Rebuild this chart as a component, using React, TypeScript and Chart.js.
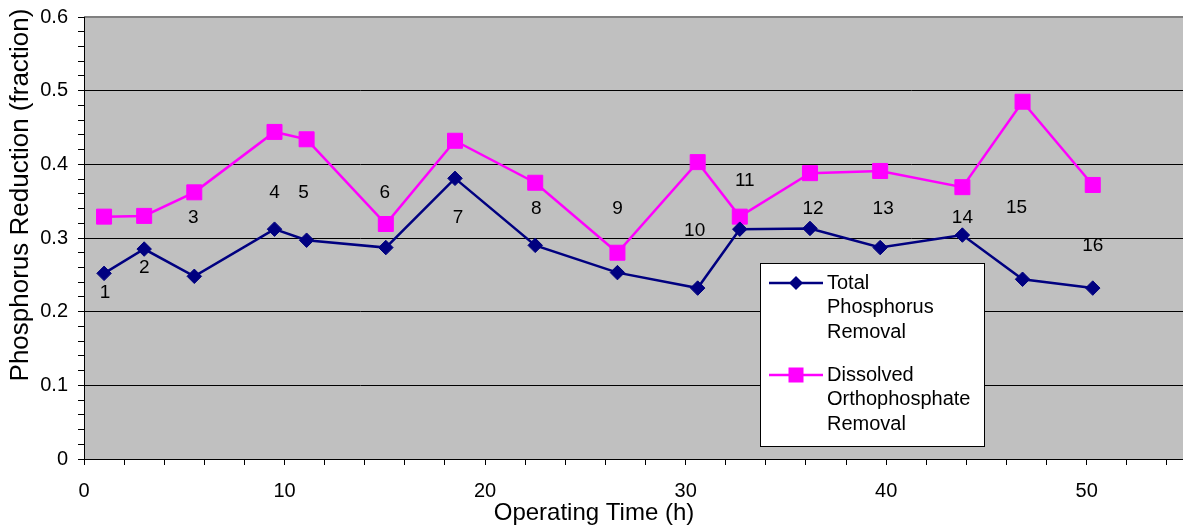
import React, { useEffect, useRef } from 'react';
import { Chart, registerables } from 'chart.js';

Chart.register(...registerables);

// Sampling times (h) and removal fractions per sample
const sampleTimes = [1.0, 3.0, 5.5, 9.5, 11.1, 15.05, 18.5, 22.5, 26.6, 30.6, 32.7, 36.2, 39.7, 43.8, 46.8, 50.3];
const totalPhosphorus = [0.252, 0.285, 0.248, 0.312, 0.297, 0.287, 0.381, 0.290, 0.253, 0.232, 0.312, 0.313, 0.287, 0.304, 0.244, 0.232];
const dissolvedOrtho = [0.329, 0.330, 0.362, 0.444, 0.434, 0.319, 0.432, 0.375, 0.280, 0.403, 0.329, 0.388, 0.391, 0.369, 0.485, 0.372];

// Sample numbers and where each number sits (time, fraction)
const sampleNumbers = ['1', '2', '3', '4', '5', '6', '7', '8', '9', '10', '11', '12', '13', '14', '15', '16'];
const numberTimes = [1.05, 3.0, 5.45, 9.5, 10.95, 15.0, 18.65, 22.55, 26.6, 30.45, 32.95, 36.35, 39.85, 43.8, 46.5, 50.3];
const numberLevels = [0.225, 0.260, 0.327, 0.361, 0.361, 0.361, 0.328, 0.340, 0.340, 0.310, 0.378, 0.340, 0.340, 0.327, 0.341, 0.289];

// Legend text, already broken into lines
const legendTotal = ['Total', 'Phosphorus', 'Removal'];
const legendDissolved = ['Dissolved', 'Orthophosphate', 'Removal'];

const xTitle = 'Operating Time (h)';
const yTitle = 'Phosphorus Reduction (fraction)';

// Axis ranges and tick spacing (minor ticks; labels every 10 h / 0.1)
const X_MAX = 55;
const X_STEP = 2;
const Y_MAX = 0.6;
const Y_STEP = 0.02;

const FONT = '"Liberation Sans", Arial, Helvetica, sans-serif';
const NAVY = '#000080';
const MAGENTA = '#FF00FF';

const isMajorY = (v: number) => Math.abs(v * 10 - Math.round(v * 10)) < 1e-6;

function drawDiamond(ctx: CanvasRenderingContext2D, x: number, y: number, r: number, color: string) {
  ctx.beginPath();
  ctx.moveTo(x - r, y);
  ctx.lineTo(x, y - r);
  ctx.lineTo(x + r, y);
  ctx.lineTo(x, y + r);
  ctx.closePath();
  ctx.fillStyle = color;
  ctx.fill();
}

function drawSquare(ctx: CanvasRenderingContext2D, x: number, y: number, half: number, color: string) {
  ctx.fillStyle = color;
  ctx.fillRect(x - half, y - half, half * 2, half * 2);
}

const plotBackground = {
  id: 'plotBackground',
  beforeDraw(chart: any) {
    const { ctx, chartArea: a } = chart;
    ctx.save();
    ctx.fillStyle = '#C0C0C0';
    ctx.fillRect(a.left, a.top, a.right - a.left, a.bottom - a.top);
    ctx.strokeStyle = '#808080';
    ctx.lineWidth = 2;
    ctx.beginPath();
    ctx.moveTo(a.left, a.top);
    ctx.lineTo(chart.width, a.top);
    ctx.stroke();
    ctx.restore();
  },
};

const sampleNumberLabels = {
  id: 'sampleNumberLabels',
  afterDatasetsDraw(chart: any) {
    const { ctx, scales } = chart;
    ctx.save();
    ctx.fillStyle = '#000';
    ctx.font = `19px ${FONT}`;
    ctx.textAlign = 'center';
    ctx.textBaseline = 'middle';
    sampleNumbers.forEach((txt, i) => {
      const x = scales.x.getPixelForValue(numberTimes[i]);
      const y = scales.y.getPixelForValue(numberLevels[i]);
      ctx.fillText(txt, x, y);
    });
    ctx.restore();
  },
};

const boxedLegend = {
  id: 'boxedLegend',
  afterDraw(chart: any) {
    const { ctx } = chart;
    ctx.save();
    const bx = 760.5, by = 263.5, bw = 224, bh = 183;
    ctx.fillStyle = '#fff';
    ctx.fillRect(bx, by, bw, bh);
    ctx.strokeStyle = '#000';
    ctx.lineWidth = 1;
    ctx.strokeRect(bx, by, bw, bh);

    const entries = [
      { lines: legendTotal, color: NAVY, marker: 'diamond', y: 283 },
      { lines: legendDissolved, color: MAGENTA, marker: 'square', y: 375 },
    ];
    ctx.font = `20px ${FONT}`;
    ctx.textAlign = 'left';
    ctx.textBaseline = 'middle';
    entries.forEach((e) => {
      ctx.strokeStyle = e.color;
      ctx.lineWidth = 2.5;
      ctx.beginPath();
      ctx.moveTo(769, e.y);
      ctx.lineTo(823, e.y);
      ctx.stroke();
      if (e.marker === 'diamond') drawDiamond(ctx, 796, e.y, 7, e.color);
      else drawSquare(ctx, 796, e.y, 7.5, e.color);
      ctx.fillStyle = '#000';
      e.lines.forEach((ln, k) => ctx.fillText(ln, 827, e.y + k * 24.5));
    });

    // Axis titles
    ctx.fillStyle = '#000';
    ctx.font = `24px ${FONT}`;
    ctx.textAlign = 'center';
    ctx.textBaseline = 'middle';
    ctx.fillText(xTitle, 594, 513);
    ctx.translate(21, 195);
    ctx.rotate(-Math.PI / 2);
    ctx.font = `26px ${FONT}`;
    ctx.fillText(yTitle, 0, 0);
    ctx.restore();
  },
};

export default function App() {
  const canvasRef = useRef<HTMLCanvasElement | null>(null);

  useEffect(() => {
    const canvas = canvasRef.current;
    if (!canvas) return;
    const toPoints = (vals: number[]) => vals.map((v, i) => ({ x: sampleTimes[i], y: v }));

    const chart = new Chart(canvas, {
      type: 'line',
      data: {
        datasets: [
          {
            label: 'Total Phosphorus Removal',
            data: toPoints(totalPhosphorus),
            borderColor: NAVY,
            backgroundColor: NAVY,
            borderWidth: 2.5,
            pointStyle: 'rectRot',
            pointRadius: 7.25,
            pointBorderWidth: 1,
            pointBackgroundColor: NAVY,
            pointBorderColor: NAVY,
            tension: 0,
          },
          {
            label: 'Dissolved Orthophosphate Removal',
            data: toPoints(dissolvedOrtho),
            borderColor: MAGENTA,
            backgroundColor: MAGENTA,
            borderWidth: 2.5,
            pointStyle: 'rect',
            pointRadius: 10.6,
            pointBorderWidth: 1,
            pointBackgroundColor: MAGENTA,
            pointBorderColor: MAGENTA,
            tension: 0,
          },
        ],
      },
      options: {
        animation: false,
        responsive: false,
        devicePixelRatio: 1,
        layout: { autoPadding: false, padding: { top: 17, right: 3, left: 0, bottom: 0 } },
        plugins: {
          legend: { display: false },
          title: { display: false },
          tooltip: { enabled: false },
        },
        scales: {
          x: {
            type: 'linear',
            min: 0,
            max: X_MAX,
            afterBuildTicks: (s: any) => {
              const n = Math.floor(X_MAX / X_STEP);
              s.ticks = Array.from({ length: n + 1 }, (_, i) => ({ value: i * X_STEP }));
            },
            afterFit: (s: any) => {
              s.height = 68;
              s.paddingLeft = 0;
              s.paddingRight = 0;
            },
            ticks: {
              autoSkip: false,
              maxRotation: 0,
              padding: 14,
              color: '#000',
              font: { family: FONT, size: 20 },
              callback: (v: any) => (Number(v) % 10 === 0 ? String(v) : ''),
            },
            grid: {
              drawOnChartArea: false,
              tickColor: '#000',
              tickLength: 6,
              lineWidth: 1,
            },
            border: { color: '#000', width: 1 },
          },
          y: {
            min: 0,
            max: Y_MAX,
            afterBuildTicks: (s: any) => {
              const n = Math.round(Y_MAX / Y_STEP);
              s.ticks = Array.from({ length: n + 1 }, (_, i) => ({ value: i * Y_STEP }));
            },
            afterFit: (s: any) => {
              s.width = 84;
              s.paddingTop = 0;
              s.paddingBottom = 0;
            },
            ticks: {
              autoSkip: false,
              padding: 10,
              color: '#000',
              font: { family: FONT, size: 20 },
              callback: (v: any) => (isMajorY(Number(v)) ? String(Math.round(Number(v) * 10) / 10) : ''),
            },
            grid: {
              color: (c: any) => {
                const v = c.tick ? c.tick.value : 0;
                return isMajorY(v) && v > 0.001 && v < Y_MAX - 0.001 ? '#000' : 'rgba(0,0,0,0)';
              },
              tickColor: '#000',
              tickLength: 6,
              lineWidth: 1,
            },
            border: { color: '#000', width: 1 },
          },
        },
      },
      plugins: [plotBackground, sampleNumberLabels, boxedLegend],
    });

    return () => chart.destroy();
  }, []);

  return (
    <div
      style={{
        position: 'fixed',
        left: 0,
        top: 0,
        width: 1183,
        height: 527,
        overflow: 'hidden',
        background: '#fff',
      }}
    >
      <canvas ref={canvasRef} width={1190} height={527} style={{ display: 'block', width: 1190, height: 527 }} />
    </div>
  );
}
